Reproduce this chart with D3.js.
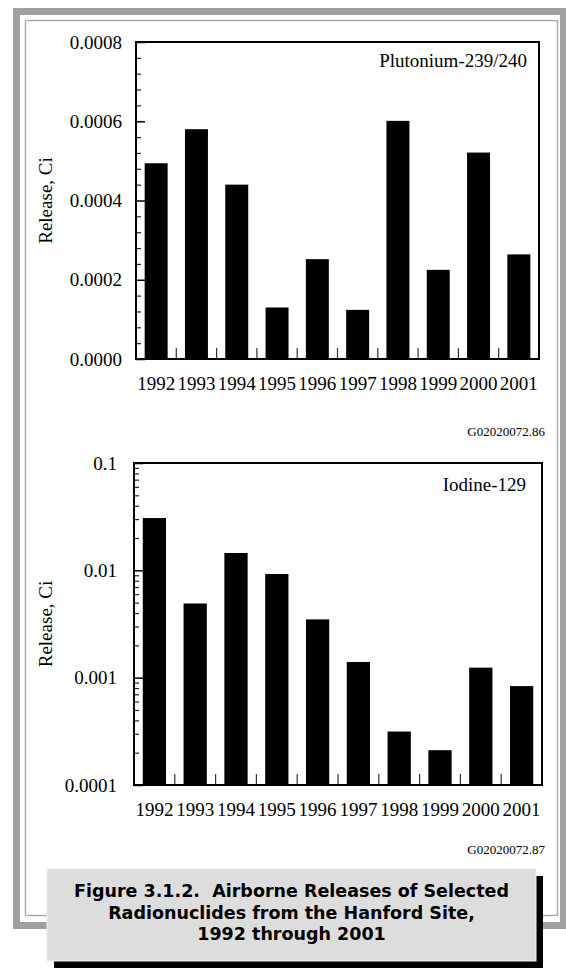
<!DOCTYPE html>
<html>
<head>
<meta charset="utf-8">
<script src="https://cdn.jsdelivr.net/npm/d3@7"></script>
<style>
  body { margin: 0; background: #fff; }
  svg { display: block; }
</style>
</head>
<body>
<div id="chart"></div>
<script>
// Chart Data
const years = ["1992", "1993", "1994", "1995", "1996", "1997", "1998", "1999", "2000", "2001"];
const plutonium = [0.000494, 0.000580, 0.000440, 0.000130, 0.000252, 0.000124, 0.000601, 0.000225, 0.000521, 0.000264];
const iodine = [0.0307, 0.00491, 0.0145, 0.00924, 0.00349, 0.00140, 0.000315, 0.000211, 0.00124, 0.000835];
const puTicks = [0, 0.0002, 0.0004, 0.0006, 0.0008];
const iTicks = [0.0001, 0.001, 0.01, 0.1];
const captionLines = ["Figure 3.1.2.  Airborne Releases of Selected", "Radionuclides from the Hanford Site,", "1992 through 2001"];

let w = 566, h = 975;
let serif = "'Liberation Serif', 'Times New Roman', serif";

let svg = d3.select("#chart").append("svg").attr("width", w).attr("height", h);

// Page Frame
svg.append("rect").attr("x", 16.5).attr("y", 11.5).attr("width", 547).attr("height", 914)
  .attr("fill", "none").attr("stroke", "#a0a0a0").attr("stroke-width", 7);
svg.append("rect").attr("x", 25.5).attr("y", 20.5).attr("width", 532).attr("height", 895)
  .attr("fill", "none").attr("stroke", "#aaaaaa").attr("stroke-width", 1.5);

// Draw One Bar Panel
function panel(opts) {
  let g = svg.append("g");
  let x = d3.scaleBand().domain(years).range([opts.left, opts.right]).paddingInner(0.43).paddingOuter(0.215);
  let y = opts.y;

  // Bars
  g.selectAll("rect.bar").data(opts.values).enter().append("rect")
    .attr("class", "bar")
    .attr("x", (d, i) => x(years[i]))
    .attr("width", x.bandwidth())
    .attr("y", d => y(d))
    .attr("height", d => opts.bottom - y(d))
    .attr("fill", "#000");

  // Minor Y Ticks
  g.append("g").attr("transform", "translate(" + opts.left + ",0)")
    .call(d3.axisLeft(y).tickValues(opts.minor).tickSize(-5).tickFormat(""))
    .call(a => a.select(".domain").remove())
    .selectAll("line").attr("stroke", "#222").attr("stroke-width", 1.2);

  // Major Y Ticks & Labels
  g.append("g").attr("transform", "translate(" + opts.left + ",0)")
    .call(d3.axisLeft(y).tickValues(opts.major).tickSize(-9).tickPadding(opts.labelGap).tickFormat(opts.fmt))
    .call(a => a.select(".domain").remove())
    .call(a => a.selectAll("line").attr("stroke", "#000").attr("stroke-width", 1.5))
    .selectAll("text").attr("font-family", serif).attr("font-size", 19).attr("fill", "#000");

  // Year Labels
  g.append("g").attr("transform", "translate(0," + opts.bottom + ")")
    .call(d3.axisBottom(x).tickSize(0).tickPadding(18))
    .call(a => a.select(".domain").remove())
    .selectAll("text").attr("font-family", serif).attr("font-size", 19).attr("fill", "#000");

  // Ticks Between Bars
  let gap = (x.step() - x.bandwidth()) / 2;
  g.selectAll("line.sep").data(years.slice(1)).enter().append("line")
    .attr("x1", d => x(d) - gap).attr("x2", d => x(d) - gap)
    .attr("y1", opts.bottom).attr("y2", opts.bottom - 11)
    .attr("stroke", "#333").attr("stroke-width", 1.2);

  // Plot Frame
  g.append("rect").attr("x", opts.left).attr("y", opts.top)
    .attr("width", opts.right - opts.left).attr("height", opts.bottom - opts.top)
    .attr("fill", "none").attr("stroke", "#000").attr("stroke-width", 2);

  // Nuclide Name
  g.append("text").attr("x", opts.right - opts.nameGap).attr("y", opts.top + opts.nameDown)
    .attr("text-anchor", "end").attr("font-family", serif).attr("font-size", 19)
    .text(opts.name);

  // Y Axis Title
  g.append("text").attr("transform", "translate(" + 52 + "," + (opts.top + opts.bottom) / 2 + ") rotate(-90)")
    .attr("text-anchor", "middle").attr("font-family", serif).attr("font-size", 19)
    .text("Release, Ci");

  // Drawing Number
  g.append("text").attr("x", 545).attr("y", opts.code_y)
    .attr("text-anchor", "end").attr("font-family", serif).attr("font-size", 13)
    .text(opts.code);
}

// Plutonium Panel (Linear)
let yPu = d3.scaleLinear().domain([0, 0.0008]).range([359, 42]);
panel({
  left: 136, right: 539, top: 42, bottom: 359, y: yPu, values: plutonium,
  major: puTicks, minor: d3.range(0, 0.00081, 0.00004).filter(v => Math.abs(v / 0.0002 - Math.round(v / 0.0002)) > 1e-6),
  fmt: d3.format(".4f"), labelGap: 14, name: "Plutonium-239/240", nameGap: 12, nameDown: 25,
  code: "G02020072.86", code_y: 436
});

// Iodine Panel (Log)
let yI = d3.scaleLog().domain([0.0001, 0.1]).range([785, 463]);
let iMinor = [];
[0.0001, 0.001, 0.01].forEach(d => { for (let k = 2; k <= 9; k++) iMinor.push(d * k); });
panel({
  left: 134, right: 542, top: 463, bottom: 785, y: yI, values: iodine,
  major: iTicks, minor: iMinor,
  fmt: d => String(d), labelGap: 17, name: "Iodine-129", nameGap: 16, nameDown: 28,
  code: "G02020072.87", code_y: 854
});

// Caption Box With Shadow
svg.append("rect").attr("x", 54).attr("y", 876).attr("width", 489).attr("height", 92).attr("fill", "#000");
svg.append("rect").attr("x", 47).attr("y", 869).attr("width", 489).attr("height", 92)
  .attr("fill", "#dddddd").attr("stroke", "#eeeeee").attr("stroke-width", 1);
svg.selectAll("text.cap").data(captionLines).enter().append("text")
  .attr("class", "cap")
  .attr("x", 291.5).attr("y", (d, i) => 897 + i * 21.5)
  .attr("text-anchor", "middle").attr("font-family", "'DejaVu Sans', sans-serif")
  .attr("font-weight", "bold").attr("font-size", 17.5).style("white-space", "pre")
  .text(d => d);
</script>
</body>
</html>
